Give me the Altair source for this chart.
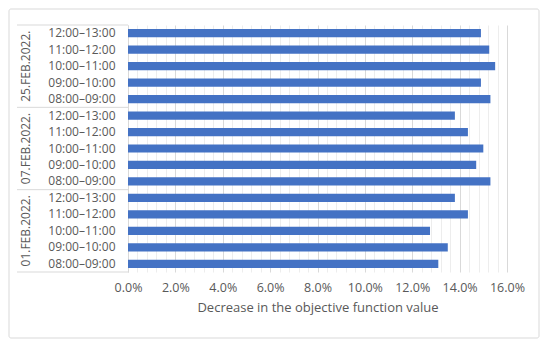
import altair as alt
import pandas as pd

groups = ["25.FEB.2022.", "07.FEB.2022.", "01.FEB.2022."]
times = ["12:00–13:00", "11:00–12:00", "10:00–11:00", "09:00–10:00", "08:00–09:00"]
vals_25feb = [0.149, 0.1525, 0.155, 0.149, 0.153]
vals_07feb = [0.138, 0.1435, 0.150, 0.147, 0.153]
vals_01feb = [0.138, 0.1435, 0.1275, 0.135, 0.131]
series = {"25.FEB.2022.": vals_25feb, "07.FEB.2022.": vals_07feb, "01.FEB.2022.": vals_01feb}

rows = []
for g in groups:
    for t, v in zip(times, series[g]):
        rows.append({"group": g, "time": t, "key": g + "|" + t, "value": v})
df = pd.DataFrame(rows)
order = list(df["key"])

W, H = 379, 247
P = 0.5
GREY = "#595959"
LINE = "#d9d9d9"
half_gap = P * (H / len(order)) / 2

yscale = alt.Scale(domain=order, paddingInner=P, paddingOuter=P / 2)
xscale = alt.Scale(domain=[0, 0.16], nice=False)

major = [i * 0.02 for i in range(9)]
minor = [i * 0.004 for i in range(41) if i % 5]

bars = alt.Chart(df).mark_bar(color="#4472C4").encode(
    x=alt.X("value:Q", scale=xscale,
            axis=alt.Axis(values=major, format=".1%", grid=True, gridColor=LINE,
                          domain=False, ticks=False, labelColor=GREY, labelFontSize=12.5,
                          labelFlush=False, labelOverlap=False,
                          labelPadding=9, title="Decrease in the objective function value",
                          titleColor=GREY, titleFontSize=13, titleFontWeight="normal",
                          titlePadding=8)),
    y=alt.Y("key:N", scale=yscale, sort=order,
            axis=alt.Axis(title=None, labelExpr="split(datum.value, '|')[1]",
                          ticks=False, domainColor=LINE, labelColor=GREY,
                          labelFontSize=12, labelPadding=13, labelOverlap=False)),
)

minor_grid = alt.Chart(df).mark_bar(opacity=0).encode(
    x=alt.X("value:Q", scale=xscale,
            axis=alt.Axis(orient="top", values=minor, grid=True, gridColor="#ededed",
                          labels=False, ticks=False, domain=False, title=None)),
    y=alt.Y("key:N", scale=yscale, sort=order, axis=None),
)

gdf = pd.DataFrame({"group": groups,
                    "mid": [g + "|" + times[2] for g in groups],
                    "top": [g + "|" + times[0] for g in groups]})

glabels = alt.Chart(gdf).mark_text(angle=270, align="center", baseline="middle",
                                   fontSize=12, color=GREY).encode(
    y=alt.Y("mid:N", scale=yscale, sort=order, axis=None),
    x=alt.value(-102),
    text="group:N",
)

sep_top = alt.Chart(gdf).mark_rule(color=LINE, yOffset=-half_gap).encode(
    y=alt.Y("top:N", scale=yscale, sort=order, axis=None, bandPosition=0),
    x=alt.value(-111), x2=alt.value(0),
)
last = pd.DataFrame({"key": [order[-1]]})
sep_bot = alt.Chart(last).mark_rule(color=LINE, yOffset=half_gap).encode(
    y=alt.Y("key:N", scale=yscale, sort=order, axis=None, bandPosition=1),
    x=alt.value(-111), x2=alt.value(0),
)

frame = alt.Chart(pd.DataFrame({"a": [0]})).mark_rect(
    fill="transparent", stroke=LINE, strokeWidth=1, cornerRadius=2).encode(
    x=alt.value(-119), x2=alt.value(W + 32),
    y=alt.value(-16), y2=alt.value(H + 66),
)

chart = alt.layer(frame, minor_grid, bars, sep_top, sep_bot, glabels).resolve_axis(
    x="independent", y="independent"
).properties(width=W, height=H, padding=0).configure(
    font="Open Sans"
).configure_view(stroke=None)

chart.save("out.html", embed_options={"renderer": "svg", "actions": False})
